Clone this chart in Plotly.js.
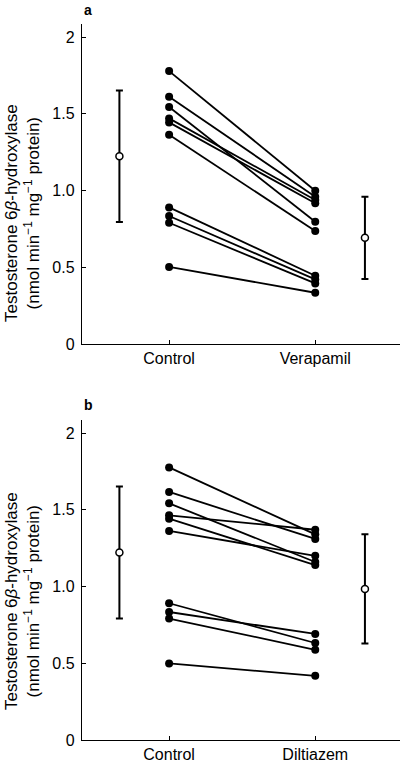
<!DOCTYPE html>
<html>
<head>
<meta charset="utf-8">
<script src="https://cdn.plot.ly/plotly-3.0.1.min.js"></script>
<style>html,body{margin:0;padding:0;background:#fff;}#chart{width:401px;height:767px;}</style>
</head>
<body>
<div id="chart"></div>
<script>
// ---- data ----
var categoriesA = ["Control", "Verapamil"];
var categoriesB = ["Control", "Diltiazem"];
var controlValues = [1.778, 1.611, 1.544, 1.470, 1.444, 1.364, 0.890, 0.834, 0.790, 0.502];
var verapamilValues = [0.999, 0.960, 0.797, 0.938, 0.917, 0.736, 0.445, 0.421, 0.395, 0.334];
var controlValuesB = [1.776, 1.616, 1.542, 1.464, 1.442, 1.362, 0.891, 0.834, 0.791, 0.499];
var diltiazemValues = [1.340, 1.310, 1.160, 1.370, 1.140, 1.200, 0.632, 0.691, 0.588, 0.418];
var meansA = [1.223, 0.692];
var sdA = [0.428, 0.268];
var meansB = [1.222, 0.984];
var sdB = [0.430, 0.356];
var yTickVals = [0, 0.5, 1.0, 1.5, 2];
var yTickText = ["0", "0.5", "1.0", "1.5", "2"];
var panelLabels = ["a", "b"];
var yTitle = "Testosterone 6<i>β</i>-hydroxylase<br>(nmol min<sup>−1</sup> mg<sup>−1</sup> protein)";

// ---- build traces ----
var FONT = "Liberation Sans, Arial, Helvetica, sans-serif";
var meanOffset = 0.34;

function pairTrace(ctrl, trt, xa, ya) {
  var xs = [], ys = [];
  for (var i = 0; i < ctrl.length; i++) {
    xs.push(1, 2, null);
    ys.push(ctrl[i], trt[i], null);
  }
  return {
    type: "scatter", mode: "lines+markers", x: xs, y: ys, xaxis: xa, yaxis: ya,
    line: {color: "#000", width: 1.8},
    marker: {color: "#000", size: 8, line: {width: 0}},
    connectgaps: false, hoverinfo: "skip", showlegend: false
  };
}
function meanTrace(means, sds, xa, ya) {
  return {
    type: "scatter", mode: "markers",
    x: [1 - meanOffset, 2 + meanOffset], y: means, xaxis: xa, yaxis: ya,
    error_y: {type: "data", array: sds, visible: true, color: "#000", thickness: 2, width: 3.5},
    marker: {color: "#fff", size: 7, line: {color: "#000", width: 1.5}},
    hoverinfo: "skip", showlegend: false
  };
}

var data = [
  meanTrace(meansA, sdA, "x", "y"),
  pairTrace(controlValues, verapamilValues, "x", "y"),
  meanTrace(meansB, sdB, "x2", "y2"),
  pairTrace(controlValuesB, diltiazemValues, "x2", "y2")
];

var H = 767;
function xAxis(cats, anchor) {
  return {
    domain: [0, 1], anchor: anchor, range: [0.404, 2.58],
    tickvals: [1, 2], ticktext: cats, ticks: "inside", ticklen: 4, tickwidth: 1, tickcolor: "#000",
    showline: true, linecolor: "#000", linewidth: 1.2, showgrid: false, zeroline: false,
    tickfont: {family: FONT, size: 16, color: "#000"}, fixedrange: true
  };
}
function yAxis(domPx, anchor) {
  return {
    domain: [(H - domPx[1]) / H, (H - domPx[0]) / H], anchor: anchor, range: [0, 2.085],
    tickvals: yTickVals, ticktext: yTickText, ticks: "inside", ticklen: 4, tickwidth: 1, tickcolor: "#000",
    showline: true, linecolor: "#000", linewidth: 1.2, showgrid: false, zeroline: false,
    tickfont: {family: FONT, size: 16, color: "#000"}, ticklabelstandoff: 3, fixedrange: true
  };
}

var layout = {
  width: 401, height: 767,
  margin: {l: 82, r: 1, t: 0, b: 0},
  paper_bgcolor: "#fff", plot_bgcolor: "#fff",
  font: {family: FONT, color: "#000"},
  showlegend: false,
  xaxis: xAxis(categoriesA, "y"),
  yaxis: yAxis([24, 344], "x"),
  xaxis2: xAxis(categoriesB, "y2"),
  yaxis2: yAxis([420, 740], "x2"),
  annotations: [
    {text: "<b>" + panelLabels[0] + "</b>", xref: "paper", yref: "paper", x: 0, y: (H - 10) / H,
     xanchor: "left", yanchor: "middle", showarrow: false, font: {family: FONT, size: 14, color: "#000"}},
    {text: "<b>" + panelLabels[1] + "</b>", xref: "paper", yref: "paper", x: 0, y: (H - 405) / H,
     xanchor: "left", yanchor: "middle", showarrow: false, font: {family: FONT, size: 14, color: "#000"}},
    {text: yTitle, xref: "paper", yref: "paper", x: 0, xshift: -60, y: (H - 213) / H, textangle: -90,
     xanchor: "center", yanchor: "middle", showarrow: false, font: {family: FONT, size: 17, color: "#000"}},
    {text: yTitle, xref: "paper", yref: "paper", x: 0, xshift: -60, y: (H - 601) / H, textangle: -90,
     xanchor: "center", yanchor: "middle", showarrow: false, font: {family: FONT, size: 17, color: "#000"}}
  ]
};

Plotly.newPlot("chart", data, layout, {staticPlot: true, displayModeBar: false});
</script>
</body>
</html>
